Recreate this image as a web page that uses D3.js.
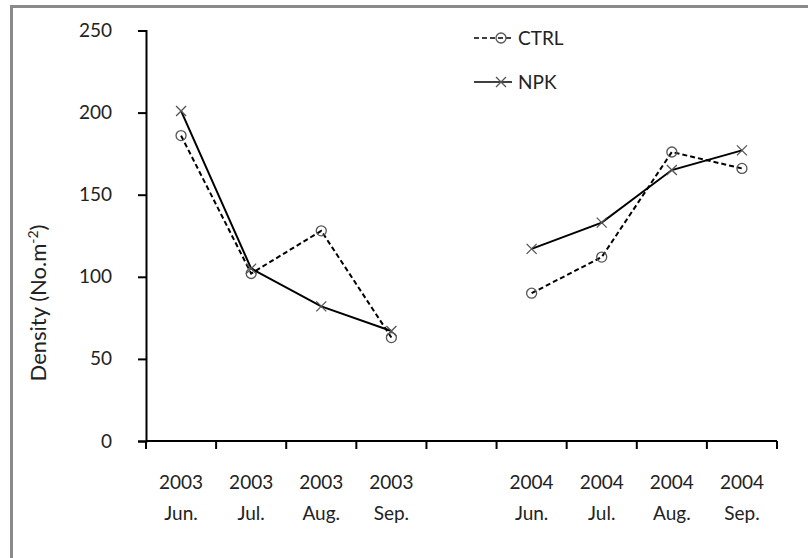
<!DOCTYPE html>
<html>
<head>
<meta charset="utf-8">
<script src="https://cdn.jsdelivr.net/npm/d3@7"></script>
<style>
  body { margin: 0; background: #fff; }
  text { font-family: Lato, "Liberation Sans", sans-serif; fill: #222; }
</style>
</head>
<body>
<div id="chart"></div>
<script>
// categories (blank slot separates the two years)
var years = ["2003", "2003", "2003", "2003", "", "2004", "2004", "2004", "2004"];
var months = ["Jun.", "Jul.", "Aug.", "Sep.", "", "Jun.", "Jul.", "Aug.", "Sep."];
var yTicks = [0, 50, 100, 150, 200, 250];

// series values, per year segment
var ctrl2003 = [186, 102, 128, 63];
var ctrl2004 = [90, 112, 176, 166];
var npk2003 = [201, 105, 82, 67];
var npk2004 = [117, 133, 165, 177];

var W = 808, H = 558;
var margin = {top: 30.5, left: 146, right: 31, bottom: 117};

var svg = d3.select("#chart").append("svg")
  .attr("width", W).attr("height", H);

// frame (only top and left edges show)
svg.append("path")
  .attr("d", "M11.5,560 L11.5,6.5 L810,6.5")
  .attr("fill", "none").attr("stroke", "#8a8a8a").attr("stroke-width", 3);

var idx = d3.range(years.length);
var x = d3.scaleBand().domain(idx).range([margin.left, W - margin.right]);
var y = d3.scaleLinear().domain([0, 250]).range([H - margin.bottom, margin.top]);
var x0 = H - margin.bottom;

// y axis
var yAxis = svg.append("g")
  .attr("transform", "translate(" + margin.left + ",0)")
  .call(d3.axisLeft(y).tickValues(yTicks).tickSize(8).tickPadding(26));
yAxis.select(".domain").attr("stroke", "#000").attr("stroke-width", 2);
yAxis.selectAll(".tick line").attr("stroke", "#000").attr("stroke-width", 2);
yAxis.selectAll(".tick text").style("font-size", "19px").attr("fill", "#444");

// x axis with ticks at category edges
var edges = idx.map(function(i) { return x(i); }).concat([W - margin.right]);
var xAxis = svg.append("g");
xAxis.append("line")
  .attr("x1", margin.left).attr("x2", W - margin.right)
  .attr("y1", x0).attr("y2", x0)
  .attr("stroke", "#000").attr("stroke-width", 2);
xAxis.selectAll(".edge").data(edges).enter().append("line")
  .attr("x1", function(d) { return d; }).attr("x2", function(d) { return d; })
  .attr("y1", x0).attr("y2", x0 + 8)
  .attr("stroke", "#000").attr("stroke-width", 2);
xAxis.selectAll(".yr").data(idx).enter().append("text")
  .attr("x", function(i) { return x(i) + x.bandwidth() / 2; })
  .attr("y", x0 + 48)
  .attr("text-anchor", "middle")
  .style("font-size", "19px")
  .text(function(i) { return years[i]; });
xAxis.selectAll(".mo").data(idx).enter().append("text")
  .attr("x", function(i) { return x(i) + x.bandwidth() / 2; })
  .attr("y", x0 + 79)
  .attr("text-anchor", "middle")
  .style("font-size", "19px")
  .text(function(i) { return months[i]; });

// y title
var yt = svg.append("text")
  .attr("transform", "translate(46,303) rotate(-90)")
  .attr("text-anchor", "middle")
  .style("font-size", "22px");
yt.append("tspan").text("Density (No.m");
yt.append("tspan").attr("dy", -8).style("font-size", "14px").text("-2");
yt.append("tspan").attr("dy", 8).text(")");

function cx(i) { return x(i) + x.bandwidth() / 2; }

var segments = [
  {name: "CTRL", values: ctrl2003, start: 0, dash: "5,3"},
  {name: "CTRL", values: ctrl2004, start: 5, dash: "5,3"},
  {name: "NPK", values: npk2003, start: 0, dash: null},
  {name: "NPK", values: npk2004, start: 5, dash: null}
];

var line = d3.line()
  .x(function(d) { return cx(d.i); })
  .y(function(d) { return y(d.v); });

segments.forEach(function(s) {
  var pts = s.values.map(function(v, k) { return {i: s.start + k, v: v}; });
  svg.append("path")
    .attr("d", line(pts))
    .attr("fill", "none").attr("stroke", "#000").attr("stroke-width", 2)
    .attr("stroke-dasharray", s.dash);
  pts.forEach(function(p) {
    drawMarker(s.name, cx(p.i), y(p.v));
  });
});

function drawMarker(name, px, py) {
  if (name == "CTRL") {
    svg.append("circle")
      .attr("cx", px).attr("cy", py).attr("r", 5)
      .attr("fill", "none").attr("stroke", "#555").attr("stroke-width", 1.3);
  } else {
    var r = 5;
    svg.append("path")
      .attr("d", "M" + (px - r) + "," + (py - r) + "L" + (px + r) + "," + (py + r) +
                 "M" + (px - r) + "," + (py + r) + "L" + (px + r) + "," + (py - r))
      .attr("stroke", "#555").attr("stroke-width", 1.3);
  }
}

// legend
var legend = [{name: "CTRL", dash: "5,3", ly: 38}, {name: "NPK", dash: null, ly: 82}];
legend.forEach(function(l) {
  svg.append("line")
    .attr("x1", 474).attr("x2", 512).attr("y1", l.ly).attr("y2", l.ly)
    .attr("stroke", "#000").attr("stroke-width", 1.5)
    .attr("stroke-dasharray", l.dash);
  drawMarker(l.name, 501, l.ly);
  svg.append("text")
    .attr("x", 518).attr("y", l.ly + 7)
    .style("font-size", "19px")
    .text(l.name);
});
</script>
</body>
</html>
